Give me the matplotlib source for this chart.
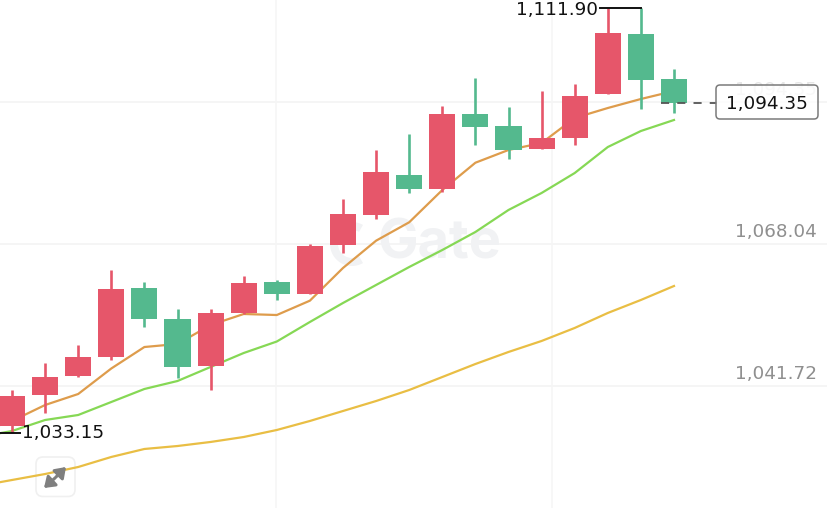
import matplotlib
matplotlib.use("Agg")
import matplotlib.pyplot as plt
from matplotlib.patches import Rectangle, FancyBboxPatch, Wedge
from matplotlib.transforms import IdentityTransform

plt.rcParams['font.family'] = ['DejaVu Sans']

opens = [1034.45, 1040.14, 1043.71, 1047.18, 1059.97, 1054.17, 1045.51, 1055.39, 1061.03, 1058.91, 1067.94,
         1073.44, 1080.97, 1078.32, 1092.22, 1089.94, 1085.68, 1087.83, 1095.87, 1106.99, 1098.65]
closes = [1040.01, 1043.42, 1047.12, 1059.78, 1054.17, 1045.27, 1055.39, 1060.95, 1058.91, 1067.75, 1073.63,
          1081.47, 1078.37, 1092.16, 1089.81, 1085.49, 1087.83, 1095.56, 1107.29, 1098.52, 1094.35]
highs = [1041.06, 1046.01, 1049.35, 1063.31, 1061.03, 1056.13, 1056.02, 1062.19, 1061.45, 1068.07, 1076.47,
         1085.55, 1088.51, 1093.76, 1098.89, 1093.57, 1096.48, 1097.84, 1111.90, 1111.90, 1100.51]
lows = [1033.15, 1036.74, 1043.47, 1046.68, 1052.80, 1043.34, 1041.06, 1055.15, 1057.75, 1058.80, 1066.51,
        1072.76, 1077.52, 1077.82, 1086.47, 1083.94, 1085.68, 1086.47, 1095.87, 1093.15, 1092.35]
ma_fast = [1033.27, 1035.32, 1038.28, 1040.32, 1045.05, 1049.03, 1049.59, 1053.11, 1055.15, 1054.96, 1057.62,
           1063.68, 1068.74, 1072.15, 1078.13, 1083.19, 1085.55, 1086.85, 1091.48, 1093.33, 1095.00, 1096.48]
ma_mid = [1032.35, 1033.46, 1035.50, 1036.43, 1038.84, 1041.25, 1042.73, 1045.33, 1047.92, 1050.05, 1053.67,
          1057.19, 1060.53, 1063.86, 1067.01, 1070.35, 1074.43, 1077.58, 1081.28, 1086.10, 1089.07, 1091.11]
ma_slow = [1023.27, 1024.38, 1025.49, 1026.79, 1028.65, 1030.13, 1030.68, 1031.43, 1032.35, 1033.65, 1035.32,
           1037.17, 1039.02, 1041.06, 1043.47, 1045.88, 1048.11, 1050.15, 1052.56, 1055.34, 1057.75, 1060.34]
grid_prices = [1094.35, 1068.04, 1041.72]
tick_labels = ['1,094.35', '1,068.04', '1,041.72']
last_price = 1094.35
period_high = 1111.90
period_low = 1033.15

RED, GREEN = '#E6566A', '#54B98E'
PX = IdentityTransform()
FS = 13.2

fig = plt.figure(figsize=(8.28, 5.08), dpi=100, facecolor='white')
ax = fig.add_axes([0, 0, 1, 1])
ax.set_xlim(-12 / 33.1, (828 - 12) / 33.1)
ax.set_ylim(1019.19, 1113.35)
ax.axis('off')

# grid
for p in grid_prices:
    ax.axhline(p + 0.1, color='#F4F4F4', lw=1.2, zorder=0)
for gx in (7.98, 16.32):
    ax.axvline(gx, color='#F6F6F6', lw=1.2, zorder=0)

# watermark
ax.text(377, 508 - 244, 'Gate', transform=PX, fontsize=39, fontweight='bold', family='Inter',
        color='#F1F2F4', ha='left', va='center', zorder=0.5)
ax.add_patch(Wedge((352, 508 - 244), 22, 60, 300, width=8, transform=PX, facecolor='#F1F2F4', edgecolor='none', zorder=0.5))

# expand button
ax.add_patch(FancyBboxPatch((36, 508 - 496.5), 39, 39.5, boxstyle='round,pad=0,rounding_size=7', transform=PX,
                            facecolor='white', edgecolor='#F0F0F0', lw=1.2, zorder=0.8))

# moving averages
ma_x = list(range(-1, 21))
ax.plot(ma_x, ma_slow, color='#E9BE44', lw=1.6, zorder=1, solid_joinstyle='round')
ax.plot(ma_x, ma_mid, color='#86D855', lw=1.6, zorder=1, solid_joinstyle='round')
ax.plot(ma_x, ma_fast, color='#DE9C4C', lw=1.6, zorder=1, solid_joinstyle='round')

# candles
for i, (o, c, h, l) in enumerate(zip(opens, closes, highs, lows)):
    col = RED if c >= o else GREEN
    ax.vlines(i, l, h, color=col, lw=1.9, zorder=2)
    ax.add_patch(Rectangle((i - 0.395, min(o, c)), 0.79, abs(c - o), facecolor=col, edgecolor='none', zorder=3))

# right-hand labels
ax.text(817, 508 - 90, tick_labels[0], transform=PX, fontsize=FS, color='#E6E6E6', ha='right', va='center', zorder=1)
ax.text(817, 508 - 232, tick_labels[1], transform=PX, fontsize=FS, color='#8F8F8F', ha='right', va='center')
ax.text(817, 508 - 374, tick_labels[2], transform=PX, fontsize=FS, color='#8F8F8F', ha='right', va='center')

# high / low markers
ax.plot([17.75, 19], [period_high, period_high], color='#111111', lw=1.4, zorder=4)
ax.text(598, 508 - 10, f'{period_high:,.2f}', transform=PX, fontsize=FS, color='#111111', ha='right', va='center', zorder=5)
ax.plot([-0.4, 0.25], [period_low, period_low], color='#111111', lw=1.4, zorder=4)
ax.text(22, 508 - 433, f'{period_low:,.2f}', transform=PX, fontsize=FS, color='#111111', ha='left', va='center', zorder=5)

# current price
ax.plot([19.6, 21.3], [last_price, last_price], color='#555555', lw=1.3, dashes=(4.5, 4.5), zorder=4)
ax.add_patch(FancyBboxPatch((716, 508 - 119), 102, 34, boxstyle='round,pad=0,rounding_size=4', transform=PX,
                            facecolor=(1, 1, 1, 0.75), edgecolor='#7A7A7A', lw=1.1, zorder=5))
ax.text(767, 508 - 104, f'{last_price:,.2f}', transform=PX, fontsize=FS, color='#111111', ha='center', va='center', zorder=6)

# expand arrows
for start, end in (((56, 508 - 477), (66, 508 - 467)), ((55, 508 - 478), (44, 508 - 488))):
    ax.annotate('', xy=end, xytext=start, xycoords=PX, textcoords=PX,
                arrowprops=dict(arrowstyle='-|>,head_width=0.42,head_length=0.6', color='#7F7F7F', lw=2.2, shrinkA=0, shrinkB=0), zorder=7)

fig.savefig('out.png', dpi=100, facecolor='white')
